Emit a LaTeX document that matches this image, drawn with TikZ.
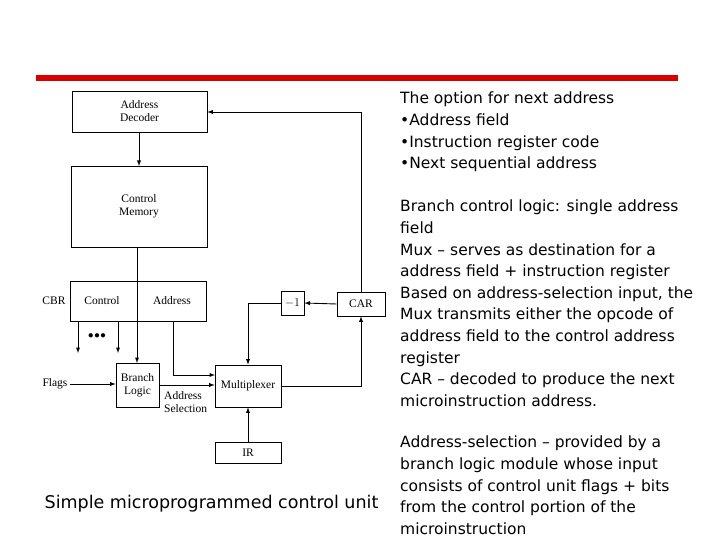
\documentclass[tikz,border=0pt]{standalone}
\usepackage{fontspec}
\setmainfont{Liberation Serif}
\newfontfamily\rsans{DejaVu Sans}
\begin{document}
\begin{tikzpicture}[x=1pt,y=-1pt,
  box/.style={draw,line width=0.7pt,inner sep=0pt,font=\fontsize{11.5}{13}\selectfont,align=center},
  lab/.style={font=\fontsize{11.5}{13}\selectfont,align=left,inner sep=0pt},
  ar/.style={draw,line width=0.9pt,-latex},
  txt/.style={font=\rsans\fontsize{15.5}{21.6}\selectfont,align=left,inner sep=0pt,anchor=north west}]
\useasboundingbox (0,0) rectangle (720,540);
\fill[red!85!black] (36,75) rectangle (678,81);
\node[box,minimum width=135pt,minimum height=41pt] (dec) at (139.5,111.5) {Address\\Decoder};
\node[box,minimum width=136pt,minimum height=81pt] (mem) at (139,206.5) {Control\\Memory};
\node[box,minimum width=136pt,minimum height=40pt] (cbr) at (138,301) {};
\node[lab] (ctl) at (102,301) {Control};
\node[lab] (adr) at (172,301) {Address};
\node[lab] (cbrl) at (54,301) {CBR};
\node[box,minimum width=43pt,minimum height=44pt] (bl) at (137.5,385) {Branch\\Logic};
\node[box,minimum width=66pt,minimum height=42pt] (mux) at (248,386) {Multiplexer};
\node[box,minimum width=66pt,minimum height=21pt] (ir) at (248,452.5) {IR};
\node[box,minimum width=23pt,minimum height=24pt] (m1) at (292.5,303) {$-1$};
\node[box,minimum width=48pt,minimum height=24pt] (car) at (361,304) {CAR};
\node[lab] (flags) at (55,384) {Flags};
\node[lab,anchor=west] (asel) at (164,402) {Address\\Selection};
\node[font=\bfseries\fontsize{11}{11}\selectfont,inner sep=0pt] (dots) at (97,336) {$\bullet\!\bullet\!\bullet$};
\coordinate (o1) at (78,353);
\coordinate (o2) at (118,353);
\draw[ar] (dec.south -| 139,0) -- (139,166);
\draw[ar] (137,247) -- (137,363);
\draw[ar] (78,321) -- (o1);
\draw[ar] (118,321) -- (o2);
\draw[ar] (flags.east) ++(2,0) -- (bl.west |- 0,384);
\draw[ar] (173,321) -- (173,375) -- (215,375);
\draw[ar] (bl.east |- 0,385) -- (mux.west |- 0,385);
\draw[ar] (ir.north) -- (mux.south);
\draw[ar] (car.west) -- (m1.east);
\draw[ar] (m1.west) -- (248,303) -- (mux.north);
\draw[ar] (mux.east) -- (361,386) -- (car.south);
\draw[ar] (car.north) -- (361,112) -- (dec.east |- 0,112);
\node[txt] (t1) at (400,92) {The option for next address\\ \textbullet Address field\\ \textbullet Instruction register code\\ \textbullet Next sequential address};
\node[txt] (t2) at (400,200) {Branch control logic: single address\\ field\\ Mux \textendash{} serves as destination for a\\ address field + instruction register\\ Based on address-selection input, the\\ Mux transmits either the opcode of\\ address field to the control address\\ register\\ CAR \textendash{} decoded to produce the next\\ microinstruction address.};
\node[txt] (t3) at (400,436) {Address-selection \textendash{} provided by a\\ branch logic module whose input\\ consists of control unit flags + bits\\ from the control portion of the\\ microinstruction};
\node[font=\rsans\fontsize{17.5}{20}\selectfont,inner sep=0pt] (cap) at (211.5,504) {Simple microprogrammed control unit};
\end{tikzpicture}
\end{document}
